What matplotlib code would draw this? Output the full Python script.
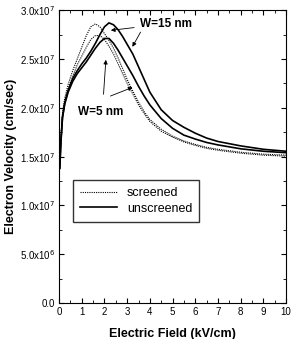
import matplotlib
matplotlib.use("Agg")
import matplotlib.pyplot as plt
from matplotlib.ticker import MultipleLocator, FixedLocator

plt.rcParams["font.family"] = ["Liberation Sans", "DejaVu Sans"]

field = [0.03, 0.08, 0.15, 0.25, 0.4, 0.6, 0.8, 1.0, 1.2, 1.4, 1.6, 1.8, 2.0, 2.2, 2.4,
         2.6, 2.8, 3.0, 3.25, 3.5, 3.75, 4.0, 4.5, 5.0, 5.5, 6.0, 6.5, 7.0, 8.0, 9.0, 10.0]

# velocities in units of 1e7 cm/sec
unscr_15 = [1.38, 1.65, 1.90, 2.05, 2.18, 2.30, 2.38, 2.45, 2.51, 2.58, 2.66, 2.75, 2.83,
            2.87, 2.85, 2.80, 2.73, 2.65, 2.55, 2.42, 2.29, 2.16, 1.98, 1.87, 1.80, 1.74,
            1.69, 1.655, 1.61, 1.575, 1.555]
unscr_5 = [1.38, 1.65, 1.90, 2.04, 2.16, 2.27, 2.35, 2.41, 2.47, 2.54, 2.61, 2.67, 2.71,
           2.71, 2.66, 2.59, 2.51, 2.43, 2.33, 2.22, 2.12, 2.03, 1.89, 1.79, 1.72, 1.68,
           1.645, 1.62, 1.58, 1.555, 1.54]
scr_15 = [1.40, 1.70, 1.95, 2.10, 2.24, 2.38, 2.50, 2.62, 2.74, 2.83, 2.86, 2.83, 2.76,
          2.69, 2.61, 2.51, 2.40, 2.29, 2.17, 2.06, 1.96, 1.88, 1.78, 1.71, 1.66, 1.625,
          1.595, 1.575, 1.545, 1.525, 1.515]
scr_5 = [1.40, 1.68, 1.92, 2.06, 2.19, 2.32, 2.44, 2.53, 2.62, 2.70, 2.74, 2.74, 2.70,
         2.63, 2.55, 2.45, 2.35, 2.25, 2.14, 2.03, 1.94, 1.86, 1.76, 1.70, 1.65, 1.615,
         1.585, 1.565, 1.535, 1.515, 1.505]

ytick_vals = [0.0, 0.5, 1.0, 1.5, 2.0, 2.5, 3.0]
ytick_labels = ["0.0", r"5.0x10$^6$", r"1.0x10$^7$", r"1.5x10$^7$",
                r"2.0x10$^7$", r"2.5x10$^7$", r"3.0x10$^7$"]

fig = plt.figure(figsize=(2.91, 3.39), dpi=100)
ax = fig.add_axes([0.203, 0.106, 0.780, 0.864])

ax.plot(field, scr_15, color="black", lw=0.8, ls=(0, (1, 1)), label="screened")
ax.plot(field, scr_5, color="black", lw=0.8, ls=(0, (1, 1)))
ax.plot(field, unscr_15, color="black", lw=1.2, label="unscreened")
ax.plot(field, unscr_5, color="black", lw=1.2)

ax.set_xlim(0, 10)
ax.set_ylim(0, 3.0)
ax.xaxis.set_major_locator(MultipleLocator(1))
ax.xaxis.set_minor_locator(MultipleLocator(0.5))
ax.yaxis.set_major_locator(FixedLocator(ytick_vals))
ax.yaxis.set_minor_locator(MultipleLocator(0.25))
ax.set_yticklabels(ytick_labels)
ax.tick_params(which="both", direction="in", top=True, right=True, labelsize=7, pad=3)
ax.tick_params(which="major", length=3.5)
ax.tick_params(which="minor", length=2)

ax.set_xlabel("Electric Field (kV/cm)", fontsize=9, fontweight="bold", labelpad=8)
ax.set_ylabel("Electron Velocity (cm/sec)", fontsize=9, fontweight="bold", labelpad=2)

arrow = dict(arrowstyle="-|>", color="black", lw=0.6, mutation_scale=6)
ax.annotate("W=15 nm", xy=(2.16, 2.79), xytext=(3.55, 2.86), fontsize=8.5,
            fontweight="bold", va="center", arrowprops=arrow)
ax.annotate("", xy=(3.17, 2.60), xytext=(3.65, 2.80), arrowprops=arrow)
ax.text(0.84, 1.96, "W=5 nm", fontsize=8.5, fontweight="bold", va="center")
ax.annotate("", xy=(2.07, 2.52), xytext=(1.95, 2.11), arrowprops=arrow)
ax.annotate("", xy=(3.35, 2.22), xytext=(2.15, 2.11), arrowprops=arrow)

ax.legend(loc="upper left", bbox_to_anchor=(0.06, 0.42), fontsize=9, frameon=True,
          fancybox=False, edgecolor="black", handlelength=3.0, borderpad=0.55,
          labelspacing=0.3, borderaxespad=0)

fig.savefig("out.png", dpi=100)
